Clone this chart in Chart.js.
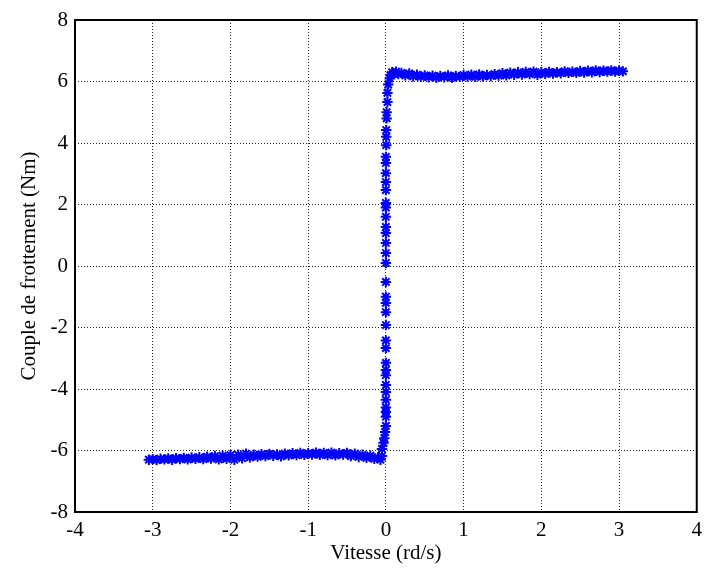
<!DOCTYPE html>
<html>
<head>
<meta charset="utf-8">
<script src="https://cdn.jsdelivr.net/npm/chart.js@4/dist/chart.umd.min.js"></script>
<style>
html,body{margin:0;padding:0;background:#fff;}
canvas{display:block;}
</style>
</head>
<body>
<canvas id="c" width="708" height="568"></canvas>
<script>
// Negative branch (speed < 0)
const negSpeed = [-3.05,-3.00,-2.95,-2.90,-2.85,-2.80,-2.75,-2.70,-2.65,-2.60,-2.55,-2.50,-2.45,-2.40,-2.35,-2.30,-2.25,-2.20,-2.15,-2.10,-2.05,-2.00,-1.95,-1.90,-1.85,-1.80,-1.75,-1.70,-1.65,-1.60,-1.55,-1.50,-1.45,-1.40,-1.35,-1.30,-1.25,-1.20,-1.15,-1.10,-1.05,-1.00,-0.95,-0.90,-0.85,-0.80,-0.75,-0.70,-0.65,-0.60,-0.55,-0.50,-0.45,-0.40,-0.35,-0.30,-0.25,-0.20,-0.15,-0.10,-0.07,-0.05];
const negTorque = [-6.30,-6.28,-6.31,-6.27,-6.29,-6.26,-6.30,-6.25,-6.28,-6.24,-6.29,-6.23,-6.27,-6.22,-6.28,-6.20,-6.26,-6.18,-6.29,-6.17,-6.27,-6.15,-6.30,-6.14,-6.25,-6.10,-6.22,-6.14,-6.20,-6.12,-6.18,-6.11,-6.17,-6.13,-6.19,-6.10,-6.16,-6.09,-6.15,-6.08,-6.14,-6.09,-6.13,-6.07,-6.14,-6.08,-6.15,-6.07,-6.16,-6.09,-6.13,-6.08,-6.18,-6.10,-6.21,-6.14,-6.24,-6.17,-6.27,-6.22,-6.30,-6.18];
// Transition through zero speed
const midSpeed = [-0.05,-0.03,-0.02,-0.01,0.00,0.00,0.00,0.00,0.00,0.00,0.00,0.00,0.00,0.00,0.00,0.00,0.00,0.00,0.00,0.00,0.00,0.00,0.00,0.00,0.00,0.00,0.00,0.00,0.00,0.00,0.00,0.00,0.00,0.00,0.005,0.005,0.005,0.01,0.01,0.02,0.02,0.03,0.05];
const midTorque = [-5.95,-5.75,-5.60,-5.40,-5.20,-4.90,-4.75,-4.60,-4.35,-4.10,-3.87,-3.55,-3.38,-3.15,-2.67,-2.42,-1.92,-1.50,-1.20,-1.00,-0.52,0.10,0.42,0.75,1.07,1.27,1.60,1.90,2.05,2.47,2.73,3.02,3.35,3.55,3.93,4.20,4.42,4.80,5.00,5.33,5.63,5.90,6.10];
// Positive branch (speed > 0)
const posSpeed = [0.06,0.08,0.10,0.13,0.16,0.20,0.25,0.30,0.35,0.40,0.45,0.50,0.55,0.60,0.65,0.70,0.75,0.80,0.85,0.90,0.95,1.00,1.05,1.10,1.15,1.20,1.25,1.30,1.35,1.40,1.45,1.50,1.55,1.60,1.65,1.70,1.75,1.80,1.85,1.90,1.95,2.00,2.05,2.10,2.15,2.20,2.25,2.30,2.35,2.40,2.45,2.50,2.55,2.60,2.65,2.70,2.75,2.80,2.85,2.90,2.95,3.00,3.05];
const posTorque = [6.20,6.30,6.25,6.32,6.24,6.28,6.20,6.26,6.17,6.22,6.15,6.20,6.14,6.19,6.13,6.18,6.14,6.20,6.13,6.18,6.15,6.21,6.16,6.22,6.15,6.23,6.17,6.21,6.18,6.24,6.19,6.27,6.20,6.29,6.22,6.30,6.23,6.31,6.24,6.32,6.22,6.30,6.25,6.31,6.26,6.30,6.27,6.33,6.28,6.32,6.28,6.34,6.29,6.35,6.30,6.36,6.31,6.35,6.32,6.36,6.32,6.35,6.33];
const xTicks = [-4,-3,-2,-1,0,1,2,3,4];
const yTicks = [-8,-6,-4,-2,0,2,4,6,8];

const pts = [];
[[negSpeed,negTorque],[midSpeed,midTorque],[posSpeed,posTorque]].forEach(([xs,ys])=>{
  xs.forEach((x,i)=>pts.push({x:x,y:ys[i]}));
});

const FONT = 'Liberation Serif';
const boxPlugin = {
  id:'box',
  afterDraw(chart){
    const a = chart.chartArea, ctx = chart.ctx;
    ctx.save();
    ctx.strokeStyle = '#000';
    ctx.lineWidth = 2;
    ctx.strokeRect(a.left, a.top, a.right-a.left, a.bottom-a.top);
    ctx.restore();
  }
};

new Chart(document.getElementById('c'), {
  type:'scatter',
  data:{datasets:[{
    data:pts,
    showLine:false,
    pointStyle:'star',
    pointRadius:5.2,
    pointBorderWidth:2,
    borderColor:'rgb(0,0,255)',
    backgroundColor:'rgb(0,0,255)'
  }]},
  options:{
    responsive:false,
    animation:false,
    events:[],
    layout:{padding:{top:20,right:10,left:0,bottom:0}},
    plugins:{legend:{display:false},tooltip:{enabled:false}},
    scales:{
      x:{
        type:'linear',min:-4,max:4,
        afterBuildTicks(s){ s.ticks = xTicks.map(v=>({value:v})); },
        afterFit(s){ s.height = 56; },
        grid:{color:'#222',lineWidth:1,drawTicks:false,tickLength:0},
        border:{display:false,dash:[1,2]},
        ticks:{color:'#000',font:{family:FONT,size:21},padding:6,maxRotation:0,autoSkip:false},
        title:{display:true,text:'Vitesse (rd/s)',color:'#000',font:{family:FONT,size:21},padding:{top:0,bottom:2}}
      },
      y:{
        type:'linear',min:-8,max:8,
        afterBuildTicks(s){ s.ticks = yTicks.map(v=>({value:v})); },
        afterFit(s){ s.width = 75; },
        grid:{color:'#222',lineWidth:1,drawTicks:false,tickLength:0},
        border:{display:false,dash:[1,2]},
        ticks:{color:'#000',font:{family:FONT,size:21},padding:7,autoSkip:false},
        title:{display:true,text:'Couple de frottement (Nm)',color:'#000',font:{family:FONT,size:21},padding:{top:17,bottom:0}}
      }
    }
  },
  plugins:[boxPlugin]
});
</script>
</body>
</html>
